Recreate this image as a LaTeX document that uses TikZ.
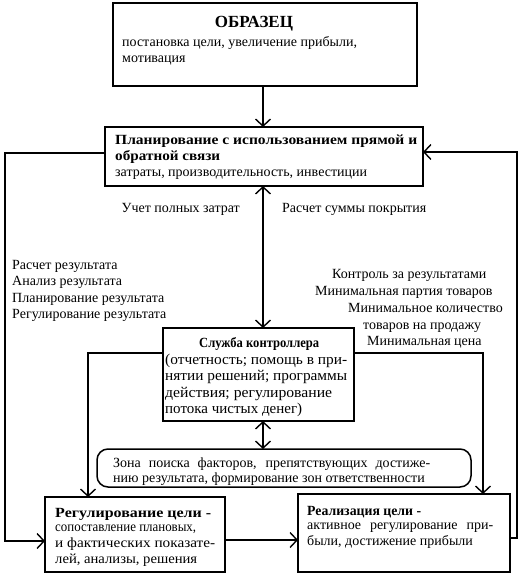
\documentclass[tikz,border=0pt]{standalone}
\usepackage{fontspec}
\setmainfont{Liberation Serif}
\newfontfamily\lser{Liberation Serif}
\usetikzlibrary{arrows.meta}
\newcommand\fitw[2]{\resizebox{#1}{\height}{#2}}
\newcommand\just[2]{\makebox[#1][s]{#2}}
\begin{document}
\begin{tikzpicture}[x=1pt,y=-1pt,
  box/.style={draw, line width=1.5pt, inner sep=0pt, outer sep=0pt},
  rbox/.style={box, rounded corners=11pt},
  conn/.style={line width=1.5pt},
  arr/.style={conn, -{Straight Barb[length=7pt,width=15pt,line width=1.4pt]}},
  dbl/.style={conn, {Straight Barb[length=7pt,width=15pt,line width=1.4pt]}-{Straight Barb[length=7pt,width=15pt,line width=1.4pt]}},
  txt/.style={anchor=base west, inner sep=0pt, font=\lser\fontsize{14}{16}\selectfont},
  ctxt/.style={anchor=base west, inner sep=0pt, font=\lser\fontsize{15}{17}\selectfont},
  btxt/.style={anchor=base west, inner sep=0pt, font=\lser\fontsize{14}{16}\selectfont\bfseries},
  ttl/.style={anchor=base, inner sep=0pt, font=\lser\fontsize{17}{20}\selectfont\bfseries}]
\useasboundingbox (0,0) rectangle (519,577);
% boxes
\node[box, minimum width=304pt, minimum height=83pt] (obr) at (265,44.5) {};
\node[box, minimum width=318pt, minimum height=59pt] (plan) at (264,156.5) {};
\node[box, minimum width=191pt, minimum height=93pt] (ctrl) at (258.5,374.5) {};
\node[rbox, minimum width=374pt, minimum height=38pt] (zone) at (284,468) {};
\node[box, minimum width=180pt, minimum height=75pt] (reg) at (135,534.5) {};
\node[box, minimum width=212pt, minimum height=78pt] (real) at (404,533) {};
% texts in boxes
\node[ttl] (t0) at (254,28) {ОБРАЗЕЦ};
\node[txt] (t1) at (122,47) {постановка цели, увеличение прибыли,};
\node[txt] (t2) at (122,63) {мотивация};
\node[btxt] (p1) at (115,145) {\fitw{302pt}{Планирование с использованием прямой и}};
\node[btxt] (p2) at (115,161) {\fitw{105pt}{обратной связи}};
\node[txt] (p3) at (115,177) {затраты, производительность, инвестиции};
\node[btxt] (c1) at (199,347) {\fitw{120pt}{Служба контроллера}};
\node[ctxt] (c2) at (165,364) {\fitw{182pt}{(отчетность; помощь в при-}};
\node[ctxt] (c3) at (165,380.5) {\fitw{182pt}{нятии решений; программы}};
\node[ctxt] (c4) at (165,397) {\fitw{167pt}{действия; регулирование}};
\node[ctxt] (c5) at (165,413.5) {\fitw{137pt}{потока чистых денег)}};
\node[txt] (z1) at (113,467) {\just{317pt}{Зона поиска факторов, препятствующих достиже-}};
\node[txt] (z2) at (113,482.5) {нию результата, формирование зон ответственности};
\node[btxt] (r1) at (55,517) {\fitw{156pt}{Регулирование цели -}};
\node[txt] (r2) at (55,531) {\fitw{141pt}{сопоставление плановых,}};
\node[txt] (r3) at (55,547) {\fitw{160pt}{и фактических показате-}};
\node[txt] (r4) at (55,563) {\fitw{142pt}{лей, анализы, решения}};
\node[btxt] (s1) at (307,515) {\fitw{114pt}{Реализация цели -}};
\node[txt] (s2) at (307,529) {\just{186pt}{активное регулирование при-}};
\node[txt] (s3) at (307,545) {были, достижение прибыли};
% free labels
\node[txt, anchor=base east] (u1) at (240,212) {Учет полных затрат};
\node[txt] (u2) at (282,212) {Расчет суммы покрытия};
\node[txt] (l1) at (12,269) {Расчет результата};
\node[txt] (l2) at (12,285.5) {Анализ результата};
\node[txt] (l3) at (12,302) {Планирование результата};
\node[txt] (l4) at (12,318.5) {Регулирование результата};
\node[txt] (m1) at (332,278) {Контроль за результатами};
\node[txt] (m2) at (315,295) {Минимальная партия товаров};
\node[txt] (m3) at (348,312) {Минимальное количество};
\node[txt] (m4) at (363,329) {товаров на продажу};
\node[txt] (m5) at (367,345) {Минимальная цена};
% connector coordinates
\coordinate (vx) at (263,0);
\coordinate (lt) at (5,153);
\coordinate (lb) at (5,541);
\coordinate (rt) at (517,152);
\coordinate (rb) at (517,538);
\coordinate (cl) at (88,353);
\coordinate (cr) at (483,353);
\coordinate (hm) at (0,540);
% connectors
\draw[arr] (obr.south -| vx) -- (plan.north -| vx);
\draw[dbl] (plan.south -| vx) -- (ctrl.north -| vx);
\draw[dbl] (ctrl.south -| vx) -- (zone.north -| vx);
\draw[arr] (plan.west |- lt) -- (lt) -- (lb) -- (reg.west |- lb);
\draw[arr] (real.east |- rb) -- (rb) -- (rt) -- (plan.east |- rt);
\draw[arr] (ctrl.west |- cl) -- (cl) -- (reg.north -| cl);
\draw[arr] (ctrl.east |- cr) -- (cr) -- (real.north -| cr);
\draw[arr] (reg.east |- hm) -- (real.west |- hm);
\end{tikzpicture}
\end{document}
